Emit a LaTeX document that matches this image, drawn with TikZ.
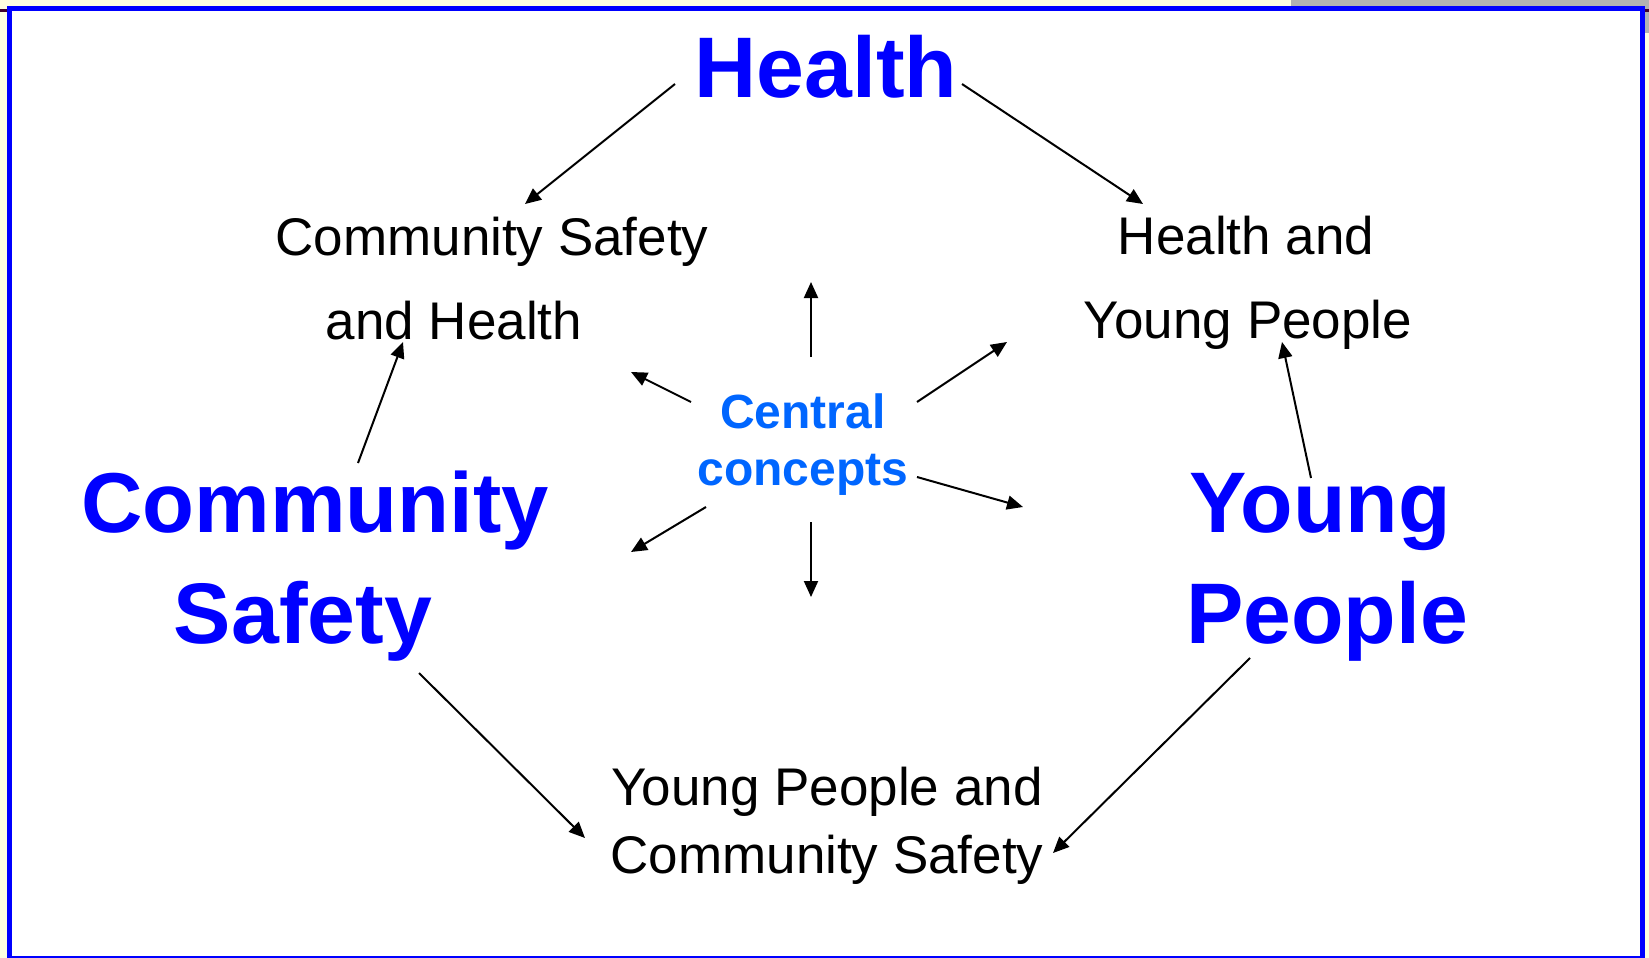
\documentclass[tikz,border=0pt]{standalone}
\usepackage{fontspec}
\setmainfont{Liberation Sans}
\usetikzlibrary{arrows.meta}

\definecolor{frameblue}{RGB}{0,0,255}
\definecolor{centreblue}{RGB}{0,102,255}
\definecolor{paperyellow}{RGB}{255,255,225}
\definecolor{bargray}{RGB}{178,178,178}
\definecolor{darkmark}{RGB}{64,0,48}

\tikzset{
  bigterm/.style={font=\bfseries\fontsize{86}{86}\selectfont, text=frameblue,
                  anchor=base, inner sep=0pt},
  pairterm/.style={font=\fontsize{53}{53}\selectfont, text=black,
                   anchor=base, inner sep=0pt},
  centreterm/.style={font=\bfseries\fontsize{48}{48}\selectfont, text=centreblue,
                     anchor=base, inner sep=0pt},
  link/.style={-{Triangle[length=16pt,width=14pt]}, line width=2pt, black},
}

\begin{document}
\begin{tikzpicture}[x=1pt, y=-1pt]
  \useasboundingbox (0,0) rectangle (1649,958);

  % page surround and frame
  \fill[paperyellow] (0,0) rectangle (1649,958);
  \fill[bargray] (1291,0) rectangle (1649,6);
  \fill[bargray] (1645,0) rectangle (1649,33);
  \fill[darkmark] (0,9) rectangle (7,12);
  \fill[darkmark] (1645,9) rectangle (1649,12);
  \fill[frameblue] (7,6) rectangle (1645,958);
  \fill[white] (12,11) rectangle (1640,956);

  % main themes
  \node[bigterm] (health) at (826,97) {Health};
  \node[bigterm, font=\bfseries\fontsize{85}{85}\selectfont] (cs1) at (315,532) {Community};
  \node[bigterm] (cs2) at (303,643) {Safety};
  \node[bigterm] (yp1) at (1320,532) {Young};
  \node[bigterm] (yp2) at (1327,643) {People};

  % overlaps between themes
  \node[pairterm] (csh1) at (492,255) {Community Safety};
  \node[pairterm] (csh2) at (454,339) {and Health};
  \node[pairterm] (hyp1) at (1246,254) {Health and};
  \node[pairterm] (hyp2) at (1248,338) {Young People};
  \node[pairterm] (ypc1) at (827,805) {Young People and};
  \node[pairterm] (ypc2) at (827,873) {Community Safety};

  % centre
  \node[centreterm] (cc1) at (803,428) {Central};
  \node[centreterm] (cc2) at (803,485) {concepts};

  % connector end points
  \coordinate (hL) at (675,84);   \coordinate (cshT) at (525,204);
  \coordinate (hR) at (962,84);   \coordinate (hypT) at (1143,204);
  \coordinate (csU) at (358,463); \coordinate (cshB) at (403,342);
  \coordinate (ypU) at (1311,478);\coordinate (hypB) at (1282,342);
  \coordinate (csD) at (419,673); \coordinate (ypcL) at (585,838);
  \coordinate (ypD) at (1250,658);\coordinate (ypcR) at (1053,853);

  \coordinate (cN) at (811,357);  \coordinate (oN) at (811,282);
  \coordinate (cNE) at (917,402); \coordinate (oNE) at (1007,342);
  \coordinate (cNW) at (691,402); \coordinate (oNW) at (631,372);
  \coordinate (cSE) at (917,477); \coordinate (oSE) at (1023,507);
  \coordinate (cSW) at (706,507); \coordinate (oSW) at (631,552);
  \coordinate (cS) at (811,522);  \coordinate (oS) at (811,597);

  % theme connectors
  \draw[link] (hL) -- (cshT);
  \draw[link] (hR) -- (hypT);
  \draw[link] (csU) -- (cshB);
  \draw[link] (ypU) -- (hypB);
  \draw[link] (csD) -- (ypcL);
  \draw[link] (ypD) -- (ypcR);

  % central connectors
  \draw[link] (cN) -- (oN);
  \draw[link] (cNE) -- (oNE);
  \draw[link] (cNW) -- (oNW);
  \draw[link] (cSE) -- (oSE);
  \draw[link] (cSW) -- (oSW);
  \draw[link] (cS) -- (oS);
\end{tikzpicture}
\end{document}
